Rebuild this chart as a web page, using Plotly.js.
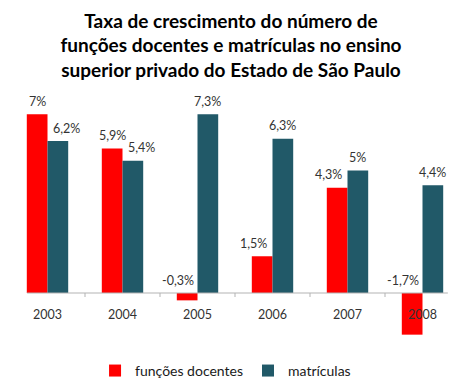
<!DOCTYPE html>
<html>
<head>
<meta charset="utf-8">
<script src="https://cdn.plot.ly/plotly-3.0.1.min.js"></script>
<style>html,body{margin:0;padding:0;background:#fff;}#chart{width:462px;height:384px;}</style>
</head>
<body>
<div id="chart"></div>
<script>
var years = ['2003', '2004', '2005', '2006', '2007', '2008'];
var funcoesDocentes = [7.3, 5.9, -0.3, 1.5, 4.3, -1.7];
var matriculas = [6.2, 5.4, 7.3, 6.3, 5.0, 4.4];
var funcoesLabels = ['7%', '5,9%', '-0,3%', '1,5%', '4,3%', '-1,7%'];
var matriculasLabels = ['6,2%', '5,4%', '7,3%', '6,3%', '5%', '4,4%'];
var seriesNames = ['funções docentes', 'matrículas'];
var colors = ['#FF0000', '#215968'];

var FONT = 'Lato, "Open Sans", sans-serif';
var halfBar = 10.35;

var traces = [
  {type: 'bar', name: seriesNames[0], x: years, y: funcoesDocentes, marker: {color: colors[0]}, hoverinfo: 'none'},
  {type: 'bar', name: seriesNames[1], x: years, y: matriculas, marker: {color: colors[1]}, hoverinfo: 'none'}
];

var annotations = [];
var vals = [funcoesDocentes, matriculas];
var labs = [funcoesLabels, matriculasLabels];
for (var s = 0; s < 2; s++) {
  for (var j = 0; j < years.length; j++) {
    var v = vals[s][j], other = vals[1 - s][j];
    var shift = (s === 0 ? -halfBar : halfBar);
    if (other > v) shift += (s === 0 ? -9 : 9);
    annotations.push({
      x: j, y: Math.max(v, 0), xref: 'x', yref: 'y',
      text: labs[s][j], showarrow: false,
      xshift: shift, yshift: 13, yanchor: 'middle', xanchor: 'center',
      font: {family: FONT, size: 12.5, color: '#333333'}
    });
  }
}

var shapes = [{
  type: 'line', xref: 'paper', yref: 'y', x0: 0.038, x1: 0.973, y0: 0, y1: 0,
  line: {color: '#B3B3B3', width: 1}, layer: 'above'
}];
for (var k = 1; k < years.length; k++) {
  shapes.push({
    type: 'line', xref: 'x', yref: 'y', x0: k - 0.5, x1: k - 0.5,
    ysizemode: 'pixel', yanchor: 0, y0: 0, y1: -4,
    line: {color: '#B3B3B3', width: 1}
  });
}

var yMin = -1.918, yMax = 7.878;
var zeroFrac = (0 - yMin) / (yMax - yMin);

var layout = {
  width: 462, height: 384,
  margin: {l: 10, r: 2, t: 100, b: 44, pad: 0},
  paper_bgcolor: '#fff', plot_bgcolor: '#fff',
  font: {family: FONT, color: '#333333'},
  title: {
    text: '<b>Taxa de crescimento do número de<br>funções docentes e matrículas no ensino<br>superior privado do Estado de São Paulo</b>',
    font: {family: FONT, size: 19, color: '#000'},
    x: 0.5, xref: 'container', xanchor: 'center',
    y: 0.928, yref: 'container', yanchor: 'top'
  },
  barmode: 'group', bargap: 0.448, bargroupgap: 0,
  xaxis: {
    type: 'category', categoryarray: years, categoryorder: 'array',
    range: [-0.5, years.length - 0.5], autorange: false,
    anchor: 'free', position: zeroFrac,
    showline: false, showgrid: false, zeroline: false, ticks: '',
    ticklabelstandoff: 12,
    tickfont: {family: FONT, size: 12.5, color: '#333333'},
    fixedrange: true, layer: 'above traces'
  },
  yaxis: {range: [yMin, yMax], autorange: false, visible: false, showgrid: false, zeroline: false, fixedrange: true},
  showlegend: true,
  legend: {
    orientation: 'h', x: 0.479, xanchor: 'center', xref: 'paper',
    y: 0.034, yref: 'container', yanchor: 'middle',
    font: {family: FONT, size: 14, color: '#1a1a1a'},
    itemclick: false, itemdoubleclick: false
  },
  annotations: annotations,
  shapes: shapes
};

Plotly.newPlot('chart', traces, layout, {displayModeBar: false, staticPlot: true});
</script>
</body>
</html>
